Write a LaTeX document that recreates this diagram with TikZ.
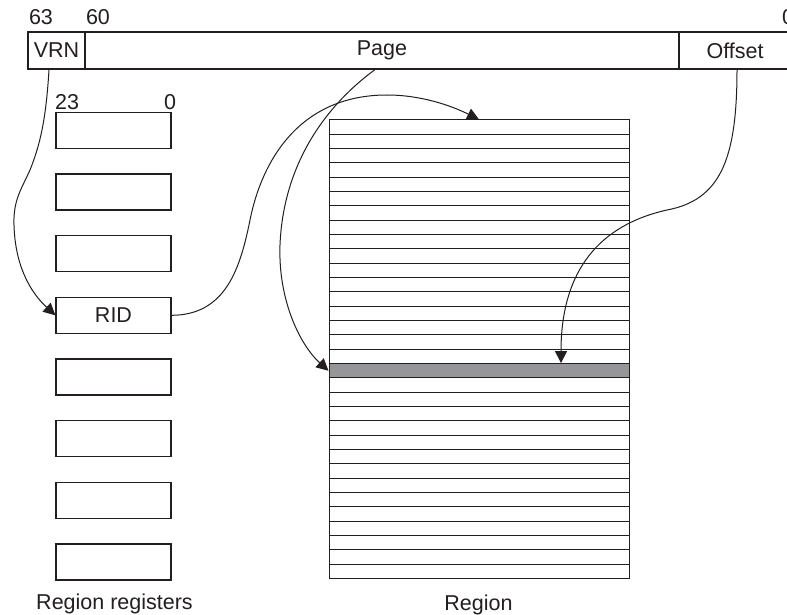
\documentclass[tikz,border=0pt]{standalone}
\usepackage{fontspec}
\setmainfont{Liberation Sans}
\usetikzlibrary{arrows.meta}
\definecolor{ink}{RGB}{35,31,32}
\definecolor{rowgray}{RGB}{150,150,153}
\begin{document}
\begin{tikzpicture}[x=1pt,y=-1pt,
  box/.style={draw=ink,line width=1.2pt,inner sep=0pt,minimum height=36pt,
    font=\fontsize{21.5}{25}\selectfont,text=ink},
  lbl/.style={inner sep=0pt,font=\fontsize{21.5}{25}\selectfont,text=ink},
  rowbox/.style={draw=ink,line width=1pt,minimum width=300pt,minimum height=14.33pt,inner sep=0pt},
  link/.style={draw=ink,line width=1pt,-{Triangle[length=12pt,width=12pt]}}
]
\clip (0,0) rectangle (787,615);
\fill[white] (0,0) rectangle (787,615);

% address bar
\node[box,minimum width=57pt,minimum height=37pt] (vrn) at (56.5,50.5) {VRN};
\node[box,minimum width=594pt,minimum height=37pt] (page) at (382,50.5) {Page};
\node[box,minimum width=112pt,minimum height=37pt] (offset) at (735,50.5) {Offset};
\node[lbl,anchor=base] (b63) at (41,25) {63};
\node[lbl,anchor=base] (b60) at (98,25) {60};
\node[lbl,anchor=base west] (b0) at (782,25) {0};

% region registers
\foreach \i in {1,2,3,5,6,7,8}
  \node[box,minimum width=115pt] (r\i) at (113.5,{130.3+61.67*(\i-1)}) {};
\node[box,minimum width=115pt] (r4) at (113.5,{130.3+61.67*3}) {RID};
\node[lbl,anchor=base west] (b23) at (55,110) {23};
\node[lbl,anchor=base] (b00) at (170,110) {0};

% region
\foreach \i in {0,...,31}
  \node[rowbox] (row\i) at (479,{120+14.33*\i+7.165}) {};
\node[rowbox,fill=rowgray] (grow) at (479,{120+14.33*17+7.165}) {};

% captions
\node[lbl,anchor=base] (cap1) at (114.5,609) {Region registers};
\node[lbl,anchor=base] (cap2) at (478.5,610) {Region};

% connectors
\draw[link] ([xshift=-7.5pt]vrn.south) .. controls (46,120) and (40,145) .. (30,170)
  .. controls (22,188) and (13,200) .. (14,225)
  .. controls (15,265) and (30,292) .. (r4.west);
\draw[link] (r4.east) .. controls (225,315) and (240,270) .. (250,220)
  .. controls (262,160) and (300,95) .. (387,95)
  .. controls (420,95) and (450,105) .. (row0.north);
\draw[link] ([xshift=-7pt]page.south) .. controls (320,110) and (283,170) .. (280,245)
  .. controls (278,300) and (300,345) .. (grow.west);
\draw[link] ([xshift=2pt]offset.south) .. controls (737,160) and (720,200) .. (667,210)
  .. controls (600,225) and (561,270) .. ([xshift=82pt]grow.north);
\end{tikzpicture}
\end{document}
